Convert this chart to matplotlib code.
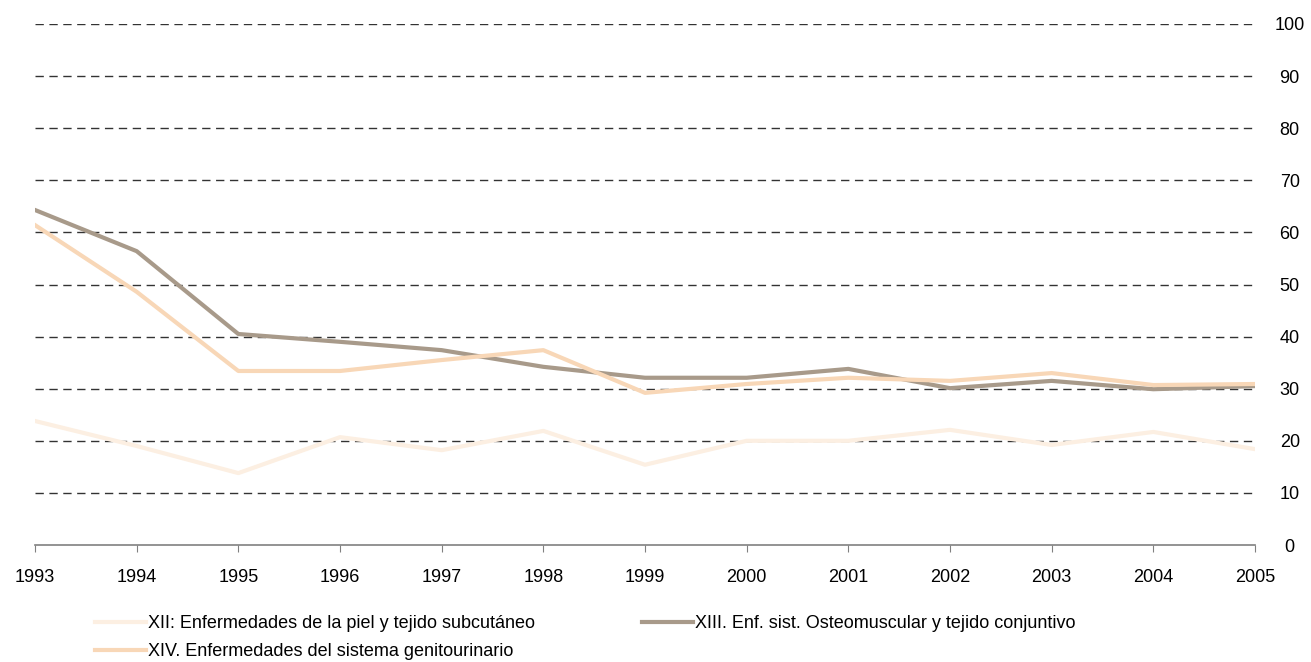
import matplotlib.pyplot as plt

plt.rcParams['font.family'] = ['Liberation Sans', 'DejaVu Sans']

years = list(range(1993, 2006))
piel = [23.8, 19.0, 13.8, 20.7, 18.2, 21.9, 15.4, 20.0, 20.0, 22.1, 19.2, 21.7, 18.4]
osteo = [64.3, 56.4, 40.5, 39.0, 37.4, 34.2, 32.1, 32.1, 33.8, 30.1, 31.5, 29.9, 30.5]
genito = [61.4, 48.6, 33.4, 33.4, 35.5, 37.4, 29.2, 30.9, 32.1, 31.5, 33.0, 30.7, 30.9]
y_ticks = [0, 10, 20, 30, 40, 50, 60, 70, 80, 90, 100]

fig = plt.figure(figsize=(13.11, 6.62), dpi=100)
ax = fig.add_axes([35 / 1311, 1 - 545 / 662, 1220 / 1311, 521 / 662])

# dashed grid lines
for v in y_ticks[1:]:
    ax.axhline(v, color='#333333', lw=1.0, ls=(0, (6, 4)), zorder=1)

l1, = ax.plot(years, piel, color='#FCEFE2', lw=3, label='XII: Enfermedades de la piel y tejido subcutáneo', zorder=3)
l2, = ax.plot(years, osteo, color='#A89A8A', lw=3, label='XIII. Enf. sist. Osteomuscular y tejido conjuntivo', zorder=3)
l3, = ax.plot(years, genito, color='#F8D7B7', lw=3, label='XIV. Enfermedades del sistema genitourinario', zorder=3)

ax.set_xlim(1993, 2005)
ax.set_ylim(0, 100)
ax.set_xticks(years)
ax.set_yticks(y_ticks)
ax.yaxis.tick_right()
ax.tick_params(axis='y', length=0, pad=25, labelsize=13)
ax.tick_params(axis='x', length=5, color='#808080', direction='out', pad=12, labelsize=13)
for s in ['top', 'left', 'right']:
    ax.spines[s].set_visible(False)
ax.spines['bottom'].set_color('#808080')
ax.spines['bottom'].set_linewidth(1.2)
for lab in ax.get_yticklabels():
    lab.set_horizontalalignment('center')

leg_kw = dict(frameon=False, fontsize=13, handlelength=2.8, handletextpad=0.15,
              labelspacing=0.6, borderaxespad=0, borderpad=0)
fig.legend(handles=[l1, l3], loc='upper left', bbox_to_anchor=(95 / 1311, 1 - 615 / 662), **leg_kw)
fig.legend(handles=[l2], loc='upper left', bbox_to_anchor=(642 / 1311, 1 - 615 / 662), **leg_kw)

fig.savefig('out.png', dpi=100)
